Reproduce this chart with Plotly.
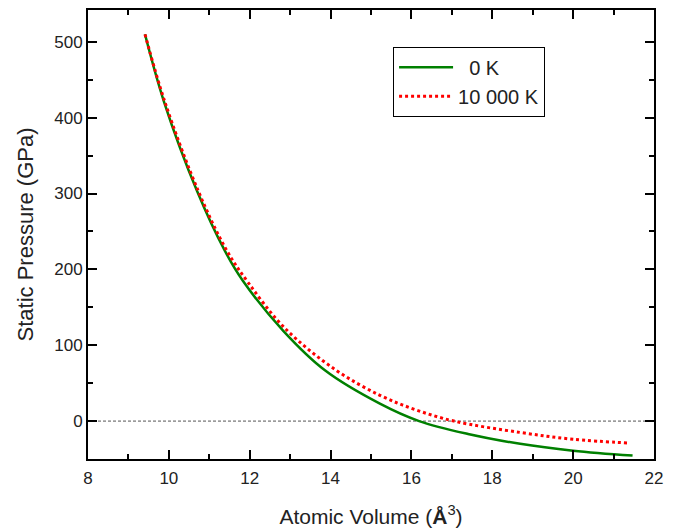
import plotly.graph_objects as go

# 0 K curve
v_0k = [9.41, 9.88, 10.70, 11.39, 11.83, 12.83, 13.86, 15.22, 16.19, 17.40, 18.69, 20.00, 21.47]
p_0k = [510, 421, 303, 224, 185, 119, 67, 23, 0, -17, -30, -39, -45.5]

# 10 000 K curve
v_10k = [9.41, 9.90, 10.73, 11.42, 11.97, 12.86, 14.11, 15.22, 16.10, 17.05, 18.69, 20.00, 21.39]
p_10k = [510, 421, 303, 226, 182, 123, 68, 34, 15, 0, -15, -24, -29]

names = ["  0 K", "10 000 K"]
x_ticks = [8, 10, 12, 14, 16, 18, 20, 22]
y_ticks = [0, 100, 200, 300, 400, 500]

FONT = "Liberation Sans, Arial, sans-serif"

fig = go.Figure()
fig.add_trace(go.Scatter(x=v_0k, y=p_0k, mode="lines", name=names[0],
                         line=dict(color="#008000", width=2.5, shape="spline", smoothing=1.0)))
fig.add_trace(go.Scatter(x=v_10k, y=p_10k, mode="lines", name=names[1],
                         line=dict(color="#ff0000", width=3, dash="dot", shape="spline", smoothing=1.0)))

fig.add_shape(type="line", xref="paper", yref="y", x0=0, x1=1, y0=0, y1=0,
              line=dict(color="#555555", width=1, dash="3px,2px"), layer="below")

axis_common = dict(showline=True, linecolor="black", linewidth=2, mirror="allticks",
                   ticks="inside", ticklen=9, tickwidth=1.5, tickcolor="black",
                   showgrid=False, zeroline=False,
                   tickfont=dict(family=FONT, size=17, color="#222"))

fig.update_xaxes(range=[8, 22], tickvals=x_ticks, ticklabelstandoff=3,
                 minor=dict(dtick=1, tick0=8, ticks="inside", ticklen=5, tickcolor="black", tickwidth=1.5),
                 title=dict(text="Atomic Volume (<b>Å</b><sup>3</sup>)",
                            font=dict(family=FONT, size=21, color="#222"),
                            standoff=22),
                 **axis_common)
fig.update_yaxes(range=[-50, 542], tickvals=y_ticks,
                 minor=dict(dtick=50, tick0=0, ticks="inside", ticklen=5, tickcolor="black", tickwidth=1.5),
                 title=dict(text="Static Pressure (GPa)",
                            font=dict(family=FONT, size=22, color="#222"),
                            standoff=15),
                 **axis_common)

fig.update_layout(
    width=689, height=532,
    margin=dict(l=80, r=43, t=0, b=81),
    plot_bgcolor="white", paper_bgcolor="white",
    showlegend=True,
    legend=dict(x=0.539, y=0.918, xanchor="left", yanchor="top",
                bordercolor="black", borderwidth=1, bgcolor="white",
                font=dict(family=FONT, size=20, color="#222"),
                itemwidth=54, tracegroupgap=0),
)

fig.write_html("out.html")
